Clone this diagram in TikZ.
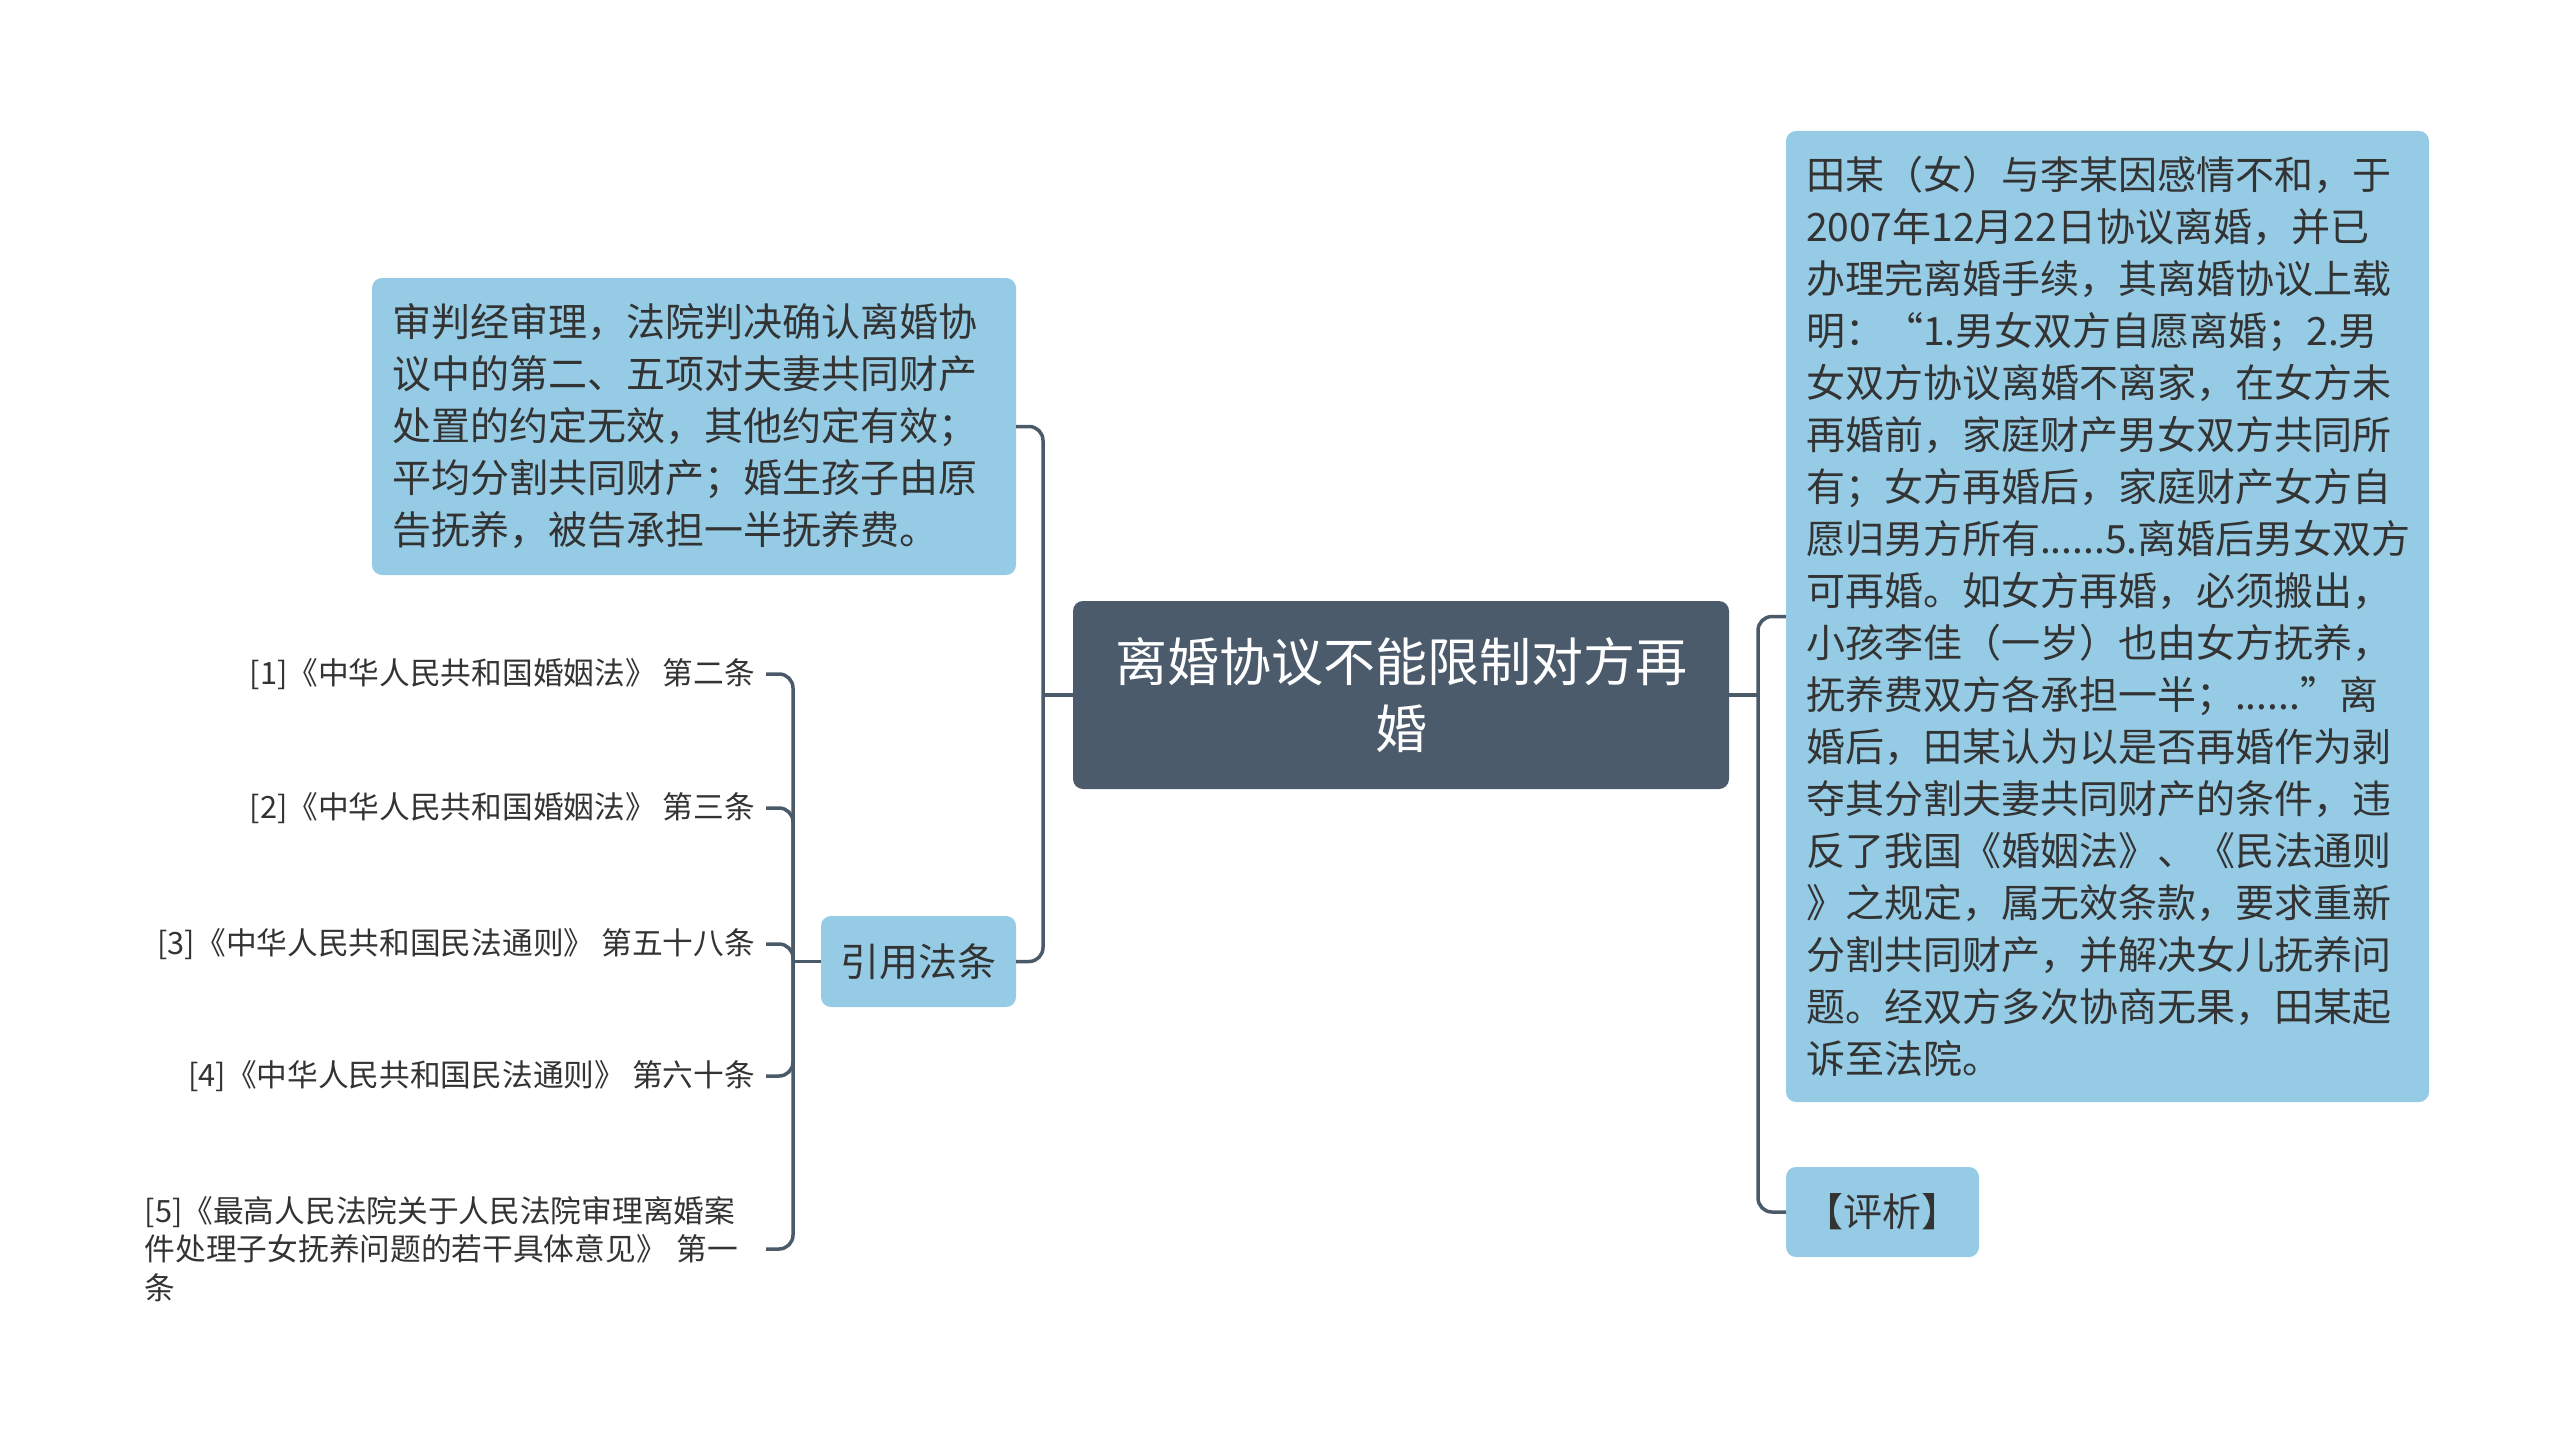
\documentclass[tikz,border=0pt]{standalone}
\usepackage{fontspec}
\setmainfont{Noto Sans CJK SC}
\definecolor{linec}{HTML}{4A5A69}
\definecolor{centc}{HTML}{4B5B6B}
\definecolor{boxc}{HTML}{95CBE4}
\definecolor{txtc}{HTML}{333333}
\tikzset{
  conn/.style={draw=linec, line width=3.5pt, rounded corners=14pt},
  centbox/.style={fill=centc, rounded corners=10pt, text=white, align=center,
    font=\fontsize{52}{67}\selectfont, inner sep=0pt},
  bluebox/.style={fill=boxc, rounded corners=10pt, text=txtc,
    font=\fontsize{39}{52}\selectfont, inner sep=0pt},
  leaf/.style={text=txtc, font=\fontsize{30.7}{38.5}\selectfont, inner xsep=11pt, inner ysep=3pt, anchor=east},
}
\begin{document}
\begin{tikzpicture}[x=1pt,y=-1pt]
\useasboundingbox (0,0) rectangle (2560,1453);

% central
\node[centbox, minimum width=656pt, minimum height=188pt] (c) at (1401,695)
  {离婚协议不能限制对方再\\婚};

% top-left judgement
\node[bluebox, minimum width=644pt, minimum height=297pt, text width=604pt, align=left] (tl) at (694,426.5)
  {审判经审理，法院判决确认离婚协\\议中的第二、五项对夫妻共同财产\\处置的约定无效，其他约定有效；\\平均分割共同财产；婚生孩子由原\\告抚养，被告承担一半抚养费。};

% cite
\node[bluebox, minimum width=195pt, minimum height=91pt, align=center] (cite) at (918.5,961.5) {引用法条};

% right case
\node[bluebox, minimum width=643pt, minimum height=971pt, text width=603pt, align=left] (case) at (2107.5,616.5)
  {田某（女）与李某因感情不和，于\\2007年12月22日协议离婚，并已\\办理完离婚手续，其离婚协议上载\\明：“1.男女双方自愿离婚；2.男\\女双方协议离婚不离家，在女方未\\再婚前，家庭财产男女双方共同所\\有；女方再婚后，家庭财产女方自\\愿归男方所有......5.离婚后男女双方\\可再婚。如女方再婚，必须搬出，\\小孩李佳（一岁）也由女方抚养，\\抚养费双方各承担一半；......”离\\婚后，田某认为以是否再婚作为剥\\夺其分割夫妻共同财产的条件，违\\反了我国《婚姻法》、《民法通则\\》之规定，属无效条款，要求重新\\分割共同财产，并解决女儿抚养问\\题。经双方多次协商无果，田某起\\诉至法院。};

% comment
\node[bluebox, minimum width=193pt, minimum height=90pt, align=center] (cm) at (1882.5,1212) {【评析】};

% leaves
\node[leaf] (l1) at (766,674) {[1]《中华人民共和国婚姻法》 第二条};
\node[leaf] (l2) at (766,808) {[2]《中华人民共和国婚姻法》 第三条};
\node[leaf] (l3) at (766,944) {[3]《中华人民共和国民法通则》 第五十八条};
\node[leaf] (l4) at (766,1076) {[4]《中华人民共和国民法通则》 第六十条};
\node[leaf, text width=610pt, align=left] (l5) at (766,1249)
  {[5]《最高人民法院关于人民法院审理离婚案\\件处理子女抚养问题的若干具体意见》 第一\\条};

% junctions
\coordinate (jL) at (1043,695);
\coordinate (jR) at (1758,695);
\coordinate (jC) at (793,961.5);

\draw[conn] (c.west) -- (jL);
\draw[conn] (jL) |- (tl.east);
\draw[conn] (jL) |- (cite.east);

\draw[conn] (c.east) -- (jR);
\draw[conn] (jR) |- (case.west);
\draw[conn] (jR) |- (cm.west);

\draw[conn] (cite.west) -- (jC);
\draw[conn] (jC) |- (l1.east);
\draw[conn] (jC) |- (l2.east);
\draw[conn] (jC) |- (l3.east);
\draw[conn] (jC) |- (l4.east);
\draw[conn] (jC) |- (l5.east);
\end{tikzpicture}
\end{document}
